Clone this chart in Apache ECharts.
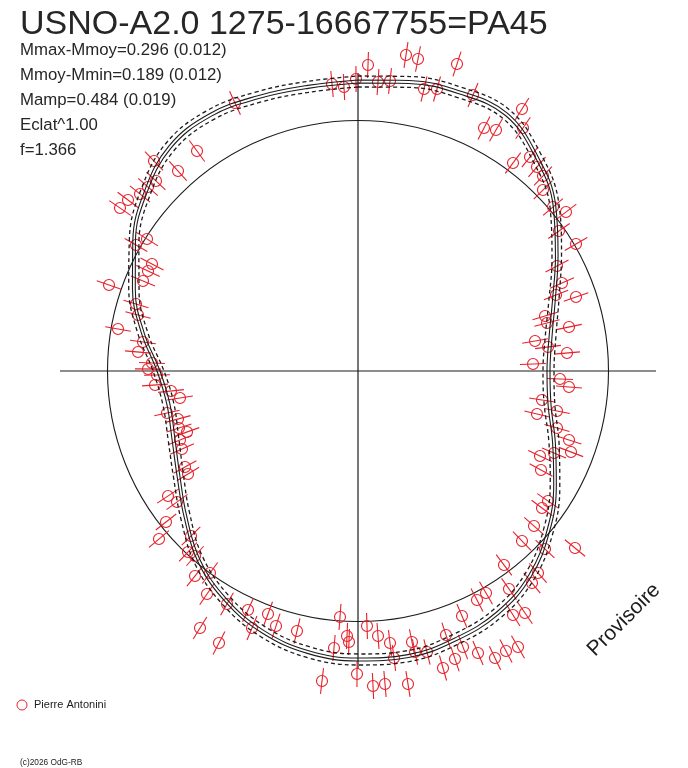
<!DOCTYPE html>
<html><head><meta charset="utf-8">
<script src="https://cdn.jsdelivr.net/npm/echarts@6/dist/echarts.min.js"></script>
<style>html,body{margin:0;padding:0;background:#fff}#c{width:688px;height:768px}</style>
</head><body><div id="c"></div>
<script>
// Phase angle (deg, clockwise from top) for the fitted curves
const phaseDeg = [0,10,20,30,40,50,60,70,80,90,100,110,120,130,140,150,160,170,180,190,200,210,220,230,240,250,260,270,280,290,300,310,320,330,340,350];
// Fitted lightcurve radii (two solid fits, two dashed bounds)
const fitSolidA = [291,295,298,298,280,258,231,210,197,192,196,210,229,250,269,281,287,291,290,287,279,266,249,227,209,198,194,201,220,240,260,279,294,297,293,290];
const fitSolidB = [288,292,295,295,277,255,228,207,194,189,193,207,226,247,266,278,284,288,287,284,276,263,246,224,206,195,191,198,217,237,257,276,291,294,290,287];
const fitDashOuter = [295,299,302,302,284,262,235,214,201,196,200,214,233,254,273,285,291,295,294,291,283,270,253,231,213,202,198,205,224,244,264,283,298,301,297,294];
const fitDashInner = [284,288,291,291,273,251,224,203,190,185,189,203,222,243,262,274,280,284,283,280,272,259,242,220,202,191,187,194,213,233,253,272,287,290,286,283];
// Mean-magnitude reference circle radius and axis half-length
const meanRadius = 250.5;
const axisHalf = 298;
const errHalf = 13;
// Observations (east / north offsets from the centre)
const obsX = [-26,-14,-2,10,20,32,48,60,66,79,99,115,164,126,138,165,155,172,179,185,185,195,208,201,218,199,204,198,218,187,189,211,177,190,209,175,202,211,184,179,199,199,211,213,182,196,183,190,184,176,164,187,217,146,180,174,151,128,119,155,167,104,88,105,97,85,120,137,148,160,69,57,54,36,32,20,9,50,27,15,-1,-36,-18,-11,-9,-24,-61,-82,-90,-106,-110,-139,-158,-131,-151,-148,-163,-163,-170,-167,-199,-192,-181,-190,-170,-173,-176,-178,-171,-179,-180,-191,-178,-187,-203,-201,-210,-206,-220,-215,-240,-220,-222,-249,-215,-210,-206,-222,-211,-238,-230,-218,-210,-202,-204,-180,-161,-123];
const obsY = [287,284,292,306,289,290,316,312,282,282,307,276,262,243,241,243,208,214,204,195,181,164,159,140,127,105,88,76,74,55,48,44,30,24,18,7,-8,-16,-29,-43,-40,-57,-69,-81,-85,-82,-99,-130,-137,-155,-170,-178,-177,-194,-202,-212,-218,-222,-229,-244,-242,-245,-264,-276,-288,-297,-282,-287,-280,-276,-281,-281,-271,-287,-272,-265,-255,-313,-313,-315,-303,-310,-246,-265,-271,-277,-260,-255,-243,-257,-239,-272,-257,-233,-223,-202,-205,-185,-181,-165,-168,-151,-131,-125,-103,-96,-78,-69,-61,-57,-48,-42,-27,-20,-14,-4,2,8,19,29,42,56,67,86,90,100,107,126,132,163,171,177,184,190,210,200,220,268];
// Texts
const titleText = 'USNO-A2.0 1275-16667755=PA45';
const infoLines = ['Mmax-Mmoy=0.296 (0.012)','Mmoy-Mmin=0.189 (0.012)','Mamp=0.484 (0.019)','Eclat^1.00','f=1.366'];
const observer = 'Pierre Antonini';
const credit = '(c)2026 OdG-RB';
const stamp = 'Provisoire';

const RED = '#e8202a', INK = '#1c1c1c';
const FONT = '"Liberation Sans", Arial, sans-serif';

function toXY(rs){
  const pts = phaseDeg.map((a,i)=>{const t=a*Math.PI/180; return [rs[i]*Math.sin(t), rs[i]*Math.cos(t)];});
  pts.push(pts[0]);
  return pts;
}
function curve(rs, dashed){
  return {type:'line', data:toXY(rs), smooth:0.4, showSymbol:false, silent:true, animation:false,
    lineStyle:{color:INK, width:dashed?1.3:1.1, type:dashed?[4,3]:'solid'}};
}

const chart = echarts.init(document.getElementById('c'));
const graphics = [
  {type:'text', x:20, y:8, style:{text:titleText, font:'34px '+FONT, fill:'#262626', verticalAlign:'top'}},
  {type:'circle', shape:{cx:22, cy:705, r:5}, style:{fill:'none', stroke:RED, lineWidth:1}},
  {type:'text', x:34, y:705, style:{text:observer, font:'11px '+FONT, fill:INK, verticalAlign:'middle'}},
  {type:'text', x:20, y:763, style:{text:credit, font:'8.3px '+FONT, fill:INK, verticalAlign:'middle'}},
  {type:'text', x:624, y:620, rotation:Math.PI/4, style:{text:stamp, font:'21px '+FONT, fill:INK, align:'center', verticalAlign:'middle'}}
];
infoLines.forEach((t,i)=>graphics.push({type:'text', x:20, y:50+25*i, style:{text:t, font:'16.8px '+FONT, fill:'#262626', verticalAlign:'middle'}}));

chart.setOption({
  animation:false,
  grid:{left:0,right:0,top:0,bottom:0},
  xAxis:{type:'value', min:-358, max:330, show:false},
  yAxis:{type:'value', min:-397, max:371, show:false},
  graphic:graphics,
  series:[
    {type:'custom', silent:true, clip:false, data:[[-axisHalf,0,axisHalf,0],[0,-axisHalf,0,axisHalf]],
      encode:{x:[0,2], y:[1,3]},
      renderItem:(p,api)=>{const a=api.coord([api.value(0),api.value(1)]), b=api.coord([api.value(2),api.value(3)]);
        return {type:'line', shape:{x1:a[0],y1:a[1],x2:b[0],y2:b[1]}, style:{stroke:INK, lineWidth:1.2}};}},
    {type:'custom', silent:true, clip:false, data:[[0,0,meanRadius]], encode:{x:0,y:1},
      renderItem:(p,api)=>{const c=api.coord([0,0]), e=api.coord([api.value(2),0]);
        return {type:'circle', shape:{cx:c[0],cy:c[1],r:e[0]-c[0]}, style:{fill:'none', stroke:INK, lineWidth:1.1}};}},
    curve(fitDashOuter,true),
    curve(fitSolidA,false),
    curve(fitSolidB,false),
    curve(fitDashInner,true),
    {type:'custom', silent:true, clip:false, data:obsX.map((x,i)=>[x,obsY[i]]), encode:{x:0,y:1},
      renderItem:(p,api)=>{
        const c=api.coord([api.value(0),api.value(1)]), o=api.coord([0,0]);
        const dx=c[0]-o[0], dy=c[1]-o[1], L=Math.hypot(dx,dy)||1, ux=dx/L, uy=dy/L;
        const e=api.size([errHalf,0])[0];
        return {type:'group', children:[
          {type:'circle', shape:{cx:c[0],cy:c[1],r:5.5}, style:{fill:'none', stroke:RED, lineWidth:1.1}},
          {type:'line', shape:{x1:c[0]-ux*e,y1:c[1]-uy*e,x2:c[0]+ux*e,y2:c[1]+uy*e}, style:{stroke:RED, lineWidth:1.1}}
        ]};
      }}
  ]
});
</script></body></html>
